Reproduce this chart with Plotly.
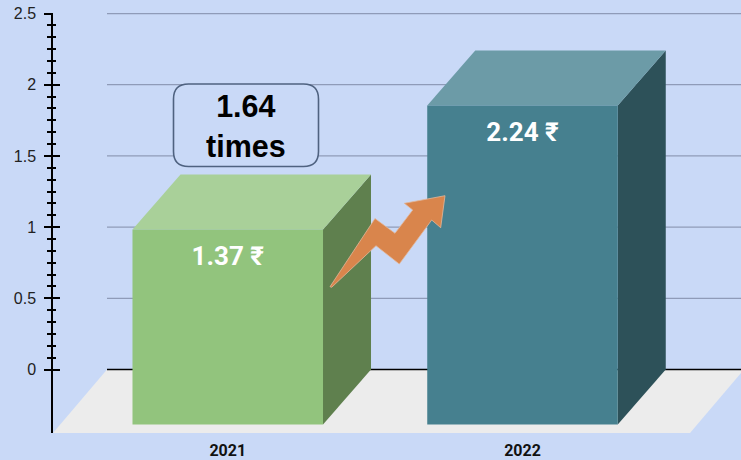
import plotly.graph_objects as go

# Data
categories = ["2021", "2022"]
values = [1.37, 2.24]
value_labels = ["1.37 ₹", "2.24 ₹"]
y_ticks = [0, 0.5, 1, 1.5, 2, 2.5]
y_tick_labels = ["0", "0.5", "1", "1.5", "2", "2.5"]
callout_text = "1.64<br>times"

# Style
BG = "#c9d9f7"
FRONT = ["#92c47d", "#46808f"]
TOP = ["#a9d099", "#6c9ba7"]
SIDE = ["#5f804e", "#2d5159"]
FLOOR = "#ececec"
GRID = "#8f9bb8"
ARROW = "#d9854c"

W, H = 741, 460
ML, MT, MB = 53, 13, 27
PX_PER_CAT = 294.75
PX_PER_UNIT = 142.4
ZERO_PX_X = 227.75   # pixel of category 0 (front face centre)
ZERO_PX_Y = 369.5    # pixel of value 0 on the back wall

x_range = [(ML - ZERO_PX_X) / PX_PER_CAT, (W - ZERO_PX_X) / PX_PER_CAT]
y_range = [(ZERO_PX_Y - (H - MB)) / PX_PER_UNIT, (ZERO_PX_Y - MT) / PX_PER_UNIT]

half = 0.3232
dx = 48 / PX_PER_CAT
dy = 55 / PX_PER_UNIT
floor_dx = 54 / PX_PER_CAT
wall_left = (107 - ZERO_PX_X) / PX_PER_CAT
wall_right = (744 - ZERO_PX_X) / PX_PER_CAT
floor_low = y_range[0]


def px(x, y):
    return (x - ML) / (W - ML), 1 - (y - MT) / (H - MT - MB)


def path(points, close=True):
    pts = [px(*p) for p in points]
    s = "M " + " L ".join(f"{a:.5f},{b:.5f}" for a, b in pts)
    return s + (" Z" if close else "")


def poly(xs, ys, color):
    return go.Scatter(x=xs, y=ys, mode="lines", fill="toself", fillcolor=color,
                      line=dict(width=0), hoverinfo="skip", showlegend=False)


fig = go.Figure()

# floor
fig.add_trace(poly([wall_left, wall_right, wall_right - floor_dx, wall_left - floor_dx],
                   [0, 0, floor_low, floor_low], FLOOR))
# back-wall gridlines
for t in y_ticks:
    fig.add_trace(go.Scatter(x=[wall_left, x_range[1] + 0.1], y=[t, t], mode="lines",
                             line=dict(color="#000000" if t == 0 else GRID, width=1.3),
                             hoverinfo="skip", showlegend=False))

# 3-D bars
for i, v in enumerate(values):
    l, r = i - half, i + half
    b, t = -dy, v - dy
    fig.add_trace(poly([r, r + dx, r + dx, r], [b, b + dy, t + dy, t], SIDE[i]))
    fig.add_trace(poly([l, r, r + dx, l + dx], [t, t, t + dy, t + dy], TOP[i]))
    fig.add_trace(poly([l, r, r, l], [b, b, t, t], FRONT[i]))

# value labels (also carries the mirrored tick axis)
fig.add_trace(go.Scatter(
    x=list(range(len(categories))), y=[v - dy - 0.205 for v in values],
    yaxis="y2", mode="text", text=value_labels,
    textfont=dict(family="Roboto, sans-serif", size=26,
                  color="#ffffff", weight="bold"),
    hoverinfo="skip", showlegend=False))

minor_vals = [k * 0.5 / 6 for k in range(0, 31) if k % 6 != 0]

yaxis_common = dict(range=y_range, tickvals=y_ticks, showgrid=False, zeroline=False,
                    tickwidth=2, tickcolor="#000000", ticklen=7, automargin=False)

fig.update_layout(
    width=W, height=H, autosize=False,
    margin=dict(l=ML, r=0, t=MT, b=MB, pad=0, autoexpand=False),
    paper_bgcolor=BG, plot_bgcolor=BG, showlegend=False,
    xaxis=dict(range=x_range, tickvals=list(range(len(categories))), ticktext=categories,
               showgrid=False, zeroline=False, showline=False, automargin=False,
               ticks="outside", ticklen=3, tickcolor="rgba(0,0,0,0)",
               tickfont=dict(family="Roboto, sans-serif", size=16,
                             color="#111111", weight="bold")),
    yaxis=dict(**yaxis_common, ticktext=y_tick_labels, ticks="outside",
               showline=True, linecolor="#000000", linewidth=1.5,
               ticklabelstandoff=5,
               tickfont=dict(family="Liberation Sans, Arial, sans-serif", size=16, color="#222222"),
               minor=dict(tickvals=minor_vals, ticks="outside", ticklen=4, tickwidth=2,
                          tickcolor="#000000", showgrid=False)),
    yaxis2=dict(**yaxis_common, overlaying="y", side="left", anchor="x", ticks="inside",
                showticklabels=False, showline=False,
                minor=dict(tickvals=minor_vals, ticks="inside", ticklen=3, tickwidth=2,
                           tickcolor="#000000", showgrid=False)),
)

# growth arrow
arrow_pts = [(330, 286.7), (375, 218.5), (395, 233.3), (412.7, 210), (404.3, 203.3),
             (445, 195.7), (440.7, 227.7), (431.7, 220), (399.3, 264), (376, 245.7),
             (331.7, 287.3)]
fig.add_shape(type="path", xref="paper", yref="paper", path=path(arrow_pts),
              fillcolor=ARROW, line=dict(color="#e2b79a", width=0.8), layer="above")

# callout box with rounded corners
x0, x1, y0, y1, c = 173.5, 318.5, 84, 166.5, 15
def seg(cmd, x, y):
    u, v = px(x, y)
    return f"{cmd} {u:.5f},{v:.5f}"
cq = []
cq.append(seg("M", x0 + c, y0))
cq.append(seg("L", x1 - c, y0))
u1, v1 = px(x1, y0); u2, v2 = px(x1, y0 + c)
cq.append(f"Q {u1:.5f},{v1:.5f} {u2:.5f},{v2:.5f}")
cq.append(seg("L", x1, y1 - c))
u1, v1 = px(x1, y1); u2, v2 = px(x1 - c, y1)
cq.append(f"Q {u1:.5f},{v1:.5f} {u2:.5f},{v2:.5f}")
cq.append(seg("L", x0 + c, y1))
u1, v1 = px(x0, y1); u2, v2 = px(x0, y1 - c)
cq.append(f"Q {u1:.5f},{v1:.5f} {u2:.5f},{v2:.5f}")
cq.append(seg("L", x0, y0 + c))
u1, v1 = px(x0, y0); u2, v2 = px(x0 + c, y0)
cq.append(f"Q {u1:.5f},{v1:.5f} {u2:.5f},{v2:.5f} Z")
fig.add_shape(type="path", xref="paper", yref="paper", path=" ".join(cq),
              fillcolor=BG, line=dict(color="#4f6280", width=1.6), layer="above")

cx, cy = px((x0 + x1) / 2, (y0 + y1) / 2 + 1)
fig.add_annotation(xref="paper", yref="paper", x=cx, y=cy, text=callout_text, showarrow=False,
                   xanchor="center", yanchor="middle", align="center",
                   font=dict(family="Liberation Sans, Arial, sans-serif", size=30.5,
                             color="#000000", weight="bold"))

fig.write_html("out.html", config=dict(displayModeBar=False),
               post_script="document.body.style.margin='0';document.body.style.overflow='hidden';document.body.style.background='" + BG + "';")
